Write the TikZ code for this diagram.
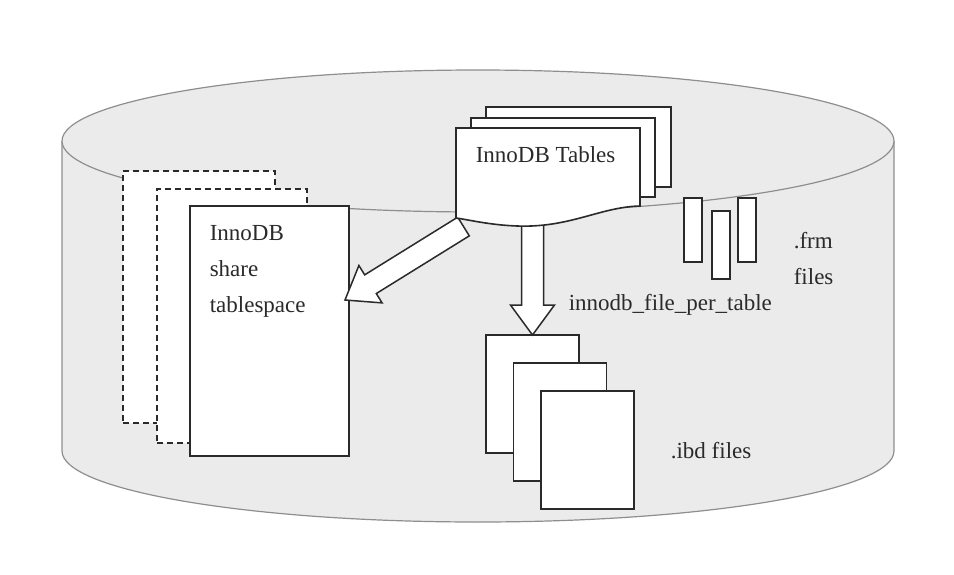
\documentclass[tikz,border=0pt]{standalone}
\usepackage{fontspec}
\setmainfont{Liberation Serif}
\usetikzlibrary{calc}
\definecolor{cylgray}{HTML}{EBEBEB}
\definecolor{cylline}{HTML}{8E8E8E}
\definecolor{ink}{HTML}{2A2A2A}
\newcommand\fatarrow[2]{%
  \coordinate (neck) at ($(#2)!30pt!(#1)$);
  \draw[arrowbox] ($(#1)!11pt!90:(#2)$) -- ($(neck)!11pt!90:(#2)$) -- ($(neck)!22pt!90:(#2)$)
    -- (#2) -- ($(neck)!22pt!-90:(#2)$) -- ($(neck)!11pt!-90:(#2)$) -- ($(#1)!11pt!-90:(#2)$) -- cycle;}

\begin{document}
\begin{tikzpicture} [x=1pt, y=-1pt, line width=1.6pt,
  page/.style={draw=ink, fill=white, inner sep=0pt, outer sep=0pt},
  ghost/.style={page, dash pattern=on 6pt off 4pt, line width=1.3pt},
  txt/.style={font=\fontsize{23}{36}\selectfont, text=ink, inner sep=0pt, align=left},
  arrowbox/.style={draw=ink, fill=white, line width=1.5pt, line join=miter}]
  \useasboundingbox (0,0) rectangle (954,574);

  % disk
  \fill[cylgray] (62,141) -- (62,451) arc[start angle=180, end angle=360, x radius=416pt, y radius=71pt] -- (894,141) -- cycle;
  \draw[cylline, line width=1.2pt] (62,141) -- (62,451) arc[start angle=180, end angle=360, x radius=416pt, y radius=71pt] -- (894,141);
  \draw[cylline, fill=cylgray, line width=1.2pt] (478,141) ellipse[x radius=416pt, y radius=71pt];

  % shared tablespace
  \node[ghost, minimum width=152pt, minimum height=252pt] (ghostA) at (199,297) {};
  \node[ghost, minimum width=150pt, minimum height=254pt] (ghostB) at (232,316) {};
  \node[page, minimum width=159pt, minimum height=250pt] (share) at (269.5,331) {};
  \node[txt, anchor=north west] (shareTxt) at (209,225) {InnoDB\\share\\tablespace};

  % .frm files
  \node[page, minimum width=18pt, minimum height=64pt] (frmA) at (693,230) {};
  \node[page, minimum width=18pt, minimum height=68pt] (frmB) at (721,245) {};
  \node[page, minimum width=18pt, minimum height=64pt] (frmC) at (747,230) {};
  \node[txt, anchor=north west] (frmTxt) at (793,231) {.frm\\files};

  % .ibd files
  \node[page, minimum width=93pt, minimum height=118pt] (ibdA) at (532.5,394) {};
  \node[page, minimum width=93pt, minimum height=118pt] (ibdB) at ($(ibdA)+(27.5,28)$) {};
  \node[page, minimum width=93pt, minimum height=118pt] (ibdC) at ($(ibdB)+(27.5,28)$) {};
  \node[txt, anchor=base west] (ibdTxt) at (670,458) {.ibd files};

  % arrows
  \coordinate (tblL) at (463.5,226.5);
  \coordinate (tblM) at ($(ibdA.north)+(0,-120)$);
  \coordinate (shareIn) at ($(share.east)+(-4,-31)$);
  \fatarrow{tblL}{shareIn}
  \fatarrow{tblM}{ibdA.north}
  \node[txt, anchor=base west] (perTable) at (568,310) {innodb\_file\_per\_table};

  % InnoDB tables
  \draw[page] (486,107) rectangle (671,187);
  \draw[page] (471,118) rectangle (655,197);
  \draw[page] (456,218) -- (456,128) -- (640,128) -- (640,206)
    .. controls (600,207) and (570,228) .. (517,226)
    .. controls (490,225) and (470,220) .. (456,218) -- cycle;
  \node[txt, anchor=base west] (tables) at (475,162) {InnoDB Tables};
\end{tikzpicture}
\end{document}
